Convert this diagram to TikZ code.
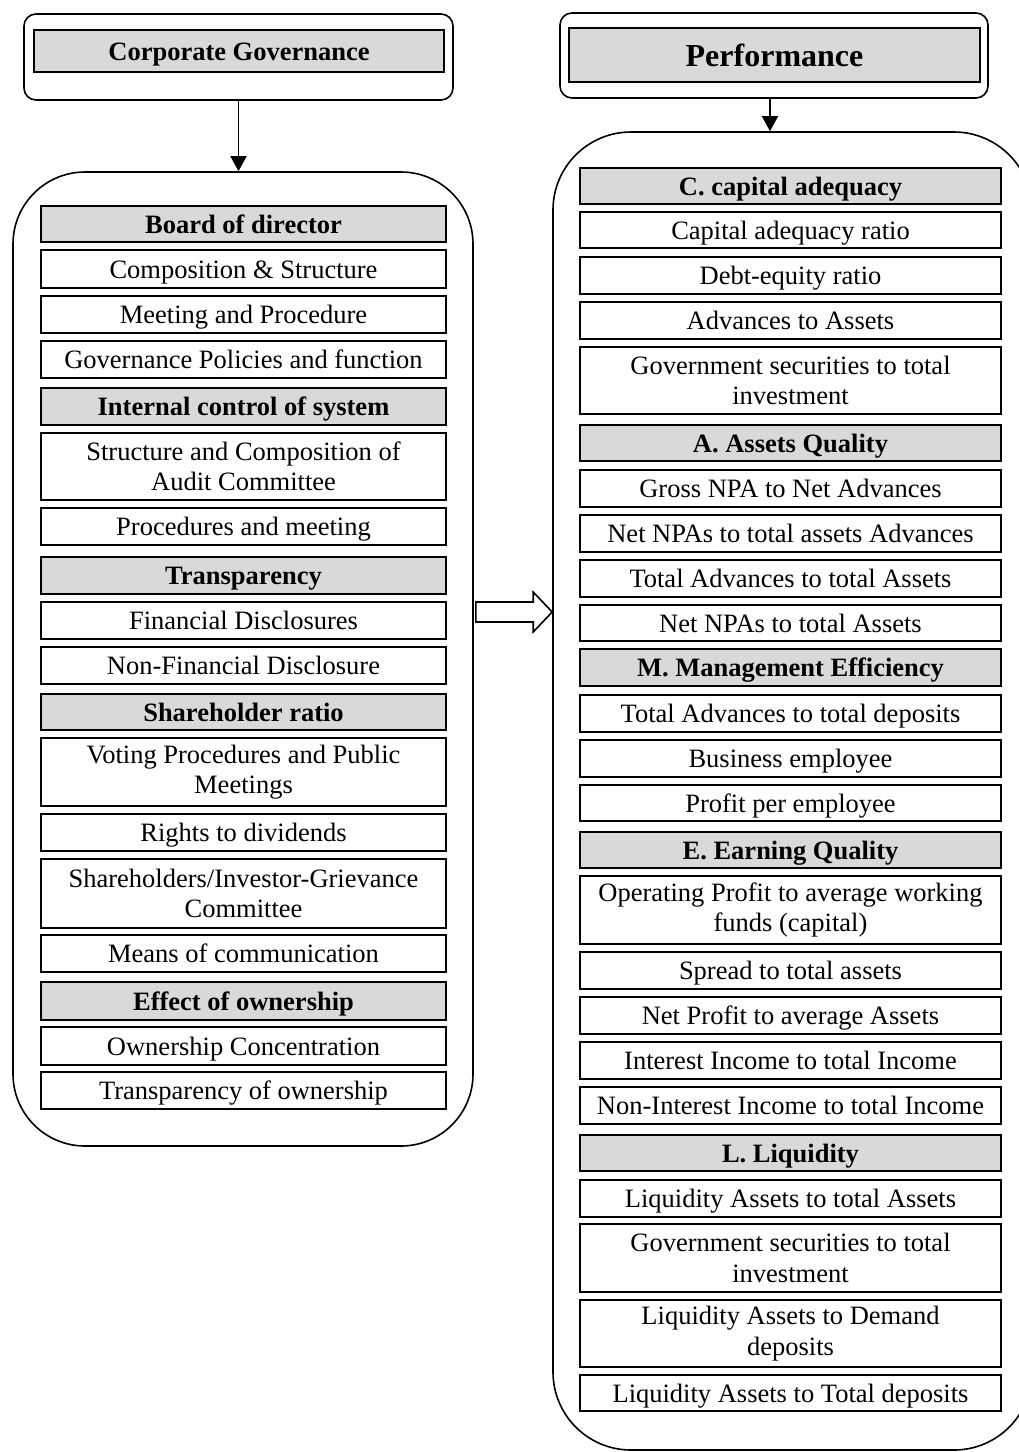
\documentclass[tikz,border=0pt]{standalone}
\usepackage{fontspec}
\setmainfont{Liberation Serif}
\usetikzlibrary{arrows.meta,calc}
\definecolor{hdgray}{RGB}{217,217,217}
\tikzset{
  rowbox/.style={draw, line width=2.4pt, inner sep=0pt,
    text height=18pt, text depth=0pt,
    font=\fontsize{26.5}{30.5}\selectfont},
  tworow/.style={align=center, text height=, text depth=},
  lrow/.style={rowbox, minimum width=405pt},
  rrow/.style={rowbox, minimum width=421pt},
  hd/.style={fill=hdgray, font=\fontsize{26.5}{30.5}\selectfont\bfseries},
  cont/.style={draw, line width=1.6pt, rounded corners=#1, inner sep=0pt},
  topbox/.style={draw, line width=1.6pt, rounded corners=12pt, inner sep=0pt},
  conn/.style={line width=1.6pt, -{Triangle[width=16pt,length=15pt]}}
}
\begin{document}
\begin{tikzpicture}[x=1pt,y=-1pt]
\useasboundingbox (0,0) rectangle (1019,1452);
\clip (0,0) rectangle (1019,1452);
% ---------- left ----------
\node[topbox, minimum width=429pt, minimum height=86pt] (cgbox) at (238.5,57) {};
\node[rowbox, hd, minimum width=410pt, minimum height=42pt] (cgtitle) at (239,51) {Corporate Governance};
\node[cont=72pt, minimum width=460pt, minimum height=974pt] (cgcont) at (243,659) {};
\coordinate (ca) at (cgbox.south);
\draw[conn] (ca) -- (ca |- cgcont.north);

\node[lrow, hd, minimum height=36pt] (l1) at (243.5,224) {Board of director};
\node[lrow, minimum height=38pt] (l2) at (243.5,269) {Composition \& Structure};
\node[lrow, minimum height=37pt] (l3) at (243.5,314.5) {Meeting and Procedure};
\node[lrow, minimum height=37pt] (l4) at (243.5,359.5) {Governance Policies and function};
\node[lrow, hd, minimum height=37pt] (l5) at (243.5,406.5) {Internal control of system};
\node[lrow, tworow, minimum height=67pt] (l6) at (243.5,466.5) {Structure and Composition of\\Audit Committee};
\node[lrow, minimum height=37pt] (l7) at (243.5,526.5) {Procedures and meeting};
\node[lrow, hd, minimum height=37pt] (l8) at (243.5,575.5) {Transparency};
\node[lrow, minimum height=37pt] (l9) at (243.5,620.5) {Financial Disclosures};
\node[lrow, minimum height=37pt] (l10) at (243.5,665.5) {Non-Financial Disclosure};
\node[lrow, hd, minimum height=36pt] (l11) at (243.5,712) {Shareholder ratio};
\node[lrow, tworow, minimum height=68pt] (l12) at (243.5,772) {Voting Procedures and Public\\Meetings};
\node[lrow, minimum height=37pt] (l13) at (243.5,832.5) {Rights to dividends};
\node[lrow, tworow, minimum height=69pt] (l14) at (243.5,893.5) {Shareholders/Investor-Grievance\\Committee};
\node[lrow, minimum height=37pt] (l15) at (243.5,953.5) {Means of communication};
\node[lrow, hd, minimum height=38pt] (l16) at (243.5,1001) {Effect of ownership};
\node[lrow, minimum height=38pt] (l17) at (243.5,1046) {Ownership Concentration};
\node[lrow, minimum height=37pt] (l18) at (243.5,1090.5) {Transparency of ownership};

% ---------- right ----------
\node[topbox, minimum width=428pt, minimum height=85pt] (pfbox) at (774,55.5) {};
\node[rowbox, hd, minimum width=411pt, minimum height=54pt, text height=22pt, font=\fontsize{32}{36}\selectfont\bfseries] (pftitle) at (774.5,55) {Performance};
\node[cont=78pt, minimum width=479pt, minimum height=1318pt] (pfcont) at (792.5,791) {};
\coordinate (pa) at ($(pfbox.south)+(-4,0)$);
\draw[conn] (pa) -- (pa |- pfcont.north);

\node[rrow, hd, minimum height=36pt] (r1) at (790.5,186) {C. capital adequacy};
\node[rrow, minimum height=36pt] (r2) at (790.5,230) {Capital adequacy ratio};
\node[rrow, minimum height=37pt] (r3) at (790.5,275.5) {Debt-equity ratio};
\node[rrow, minimum height=37pt] (r4) at (790.5,320.5) {Advances to Assets};
\node[rrow, tworow, minimum height=67pt] (r5) at (790.5,380.5) {Government securities to total\\investment};
\node[rrow, hd, minimum height=36pt] (r6) at (790.5,443) {A. Assets Quality};
\node[rrow, minimum height=37pt] (r7) at (790.5,488.5) {Gross NPA to Net Advances};
\node[rrow, minimum height=37pt] (r8) at (790.5,533.5) {Net NPAs to total assets Advances};
\node[rrow, minimum height=37pt] (r9) at (790.5,578.5) {Total Advances to total Assets};
\node[rrow, minimum height=36pt] (r10) at (790.5,623) {Net NPAs to total Assets};
\node[rrow, hd, minimum height=37pt] (r11) at (790.5,667.5) {M. Management Efficiency};
\node[rrow, minimum height=37pt] (r12) at (790.5,713.5) {Total Advances to total deposits};
\node[rrow, minimum height=37pt] (r13) at (790.5,758.5) {Business employee};
\node[rrow, minimum height=36pt] (r14) at (790.5,803) {Profit per employee};
\node[rrow, hd, minimum height=36pt] (r15) at (790.5,850) {E. Earning Quality};
\node[rrow, tworow, minimum height=68pt] (r16) at (790.5,910) {Operating Profit to average working\\funds (capital)};
\node[rrow, minimum height=37pt] (r17) at (790.5,970.5) {Spread to total assets};
\node[rrow, minimum height=37pt] (r18) at (790.5,1015.5) {Net Profit to average Assets};
\node[rrow, minimum height=37pt] (r19) at (790.5,1060.5) {Interest Income to total Income};
\node[rrow, minimum height=37pt] (r20) at (790.5,1105.5) {Non-Interest Income to total Income};
\node[rrow, hd, minimum height=36pt] (r21) at (790.5,1153) {L. Liquidity};
\node[rrow, minimum height=37pt] (r22) at (790.5,1198.5) {Liquidity Assets to total Assets};
\node[rrow, tworow, minimum height=68pt] (r23) at (790.5,1258) {Government securities to total\\investment};
\node[rrow, tworow, minimum height=67pt] (r24) at (790.5,1333.5) {Liquidity Assets to Demand\\deposits};
\node[rrow, minimum height=36pt] (r25) at (790.5,1393) {Liquidity Assets to Total deposits};

% ---------- hollow arrow ----------
\coordinate (ha) at (cgcont.east |- 0,612);
\coordinate (hb) at (pfcont.west |- 0,612);
\draw[line width=1.6pt, line join=miter]
  ($(ha)+(2,-10)$) -- ($(hb)+(-19,-10)$) -- ($(hb)+(-19,-20)$) -- (hb)
  -- ($(hb)+(-19,20)$) -- ($(hb)+(-19,10)$) -- ($(ha)+(2,10)$) -- cycle;
\end{tikzpicture}
\end{document}
